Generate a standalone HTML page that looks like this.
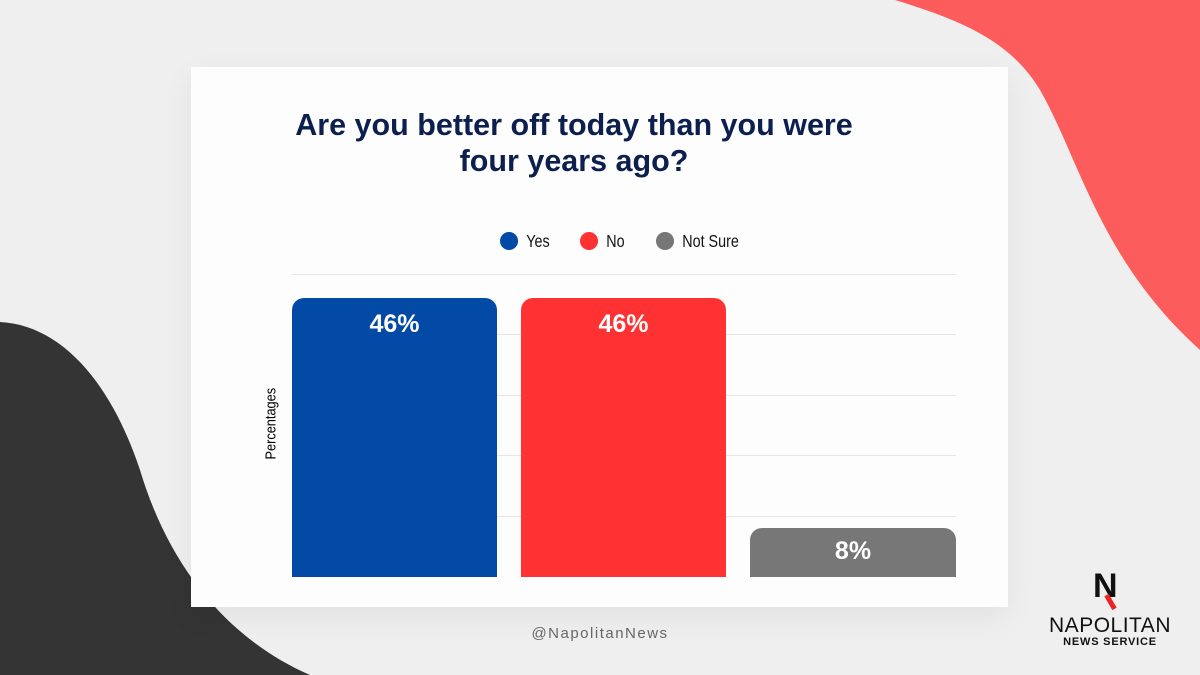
<!DOCTYPE html><html><head><style>
body{margin:0;width:1200px;height:675px;overflow:hidden;background:#efefef;position:relative;font-family:"Liberation Sans",sans-serif}
.abs{position:absolute}
.card{left:191px;top:67px;width:817px;height:540px;background:#fdfdfd;box-shadow:0 10px 30px rgba(0,0,0,0.06)}
.t{left:184px;top:107px;width:780px;text-align:center;color:#0d1f4f;font-weight:bold;font-size:30.5px;line-height:36px}
.g{left:292px;width:664px;height:1px;background:#e6e6e6}
.bar{border-radius:12px 12px 0 0;color:#fff;font-weight:bold;font-size:25px;text-align:center;padding-top:12px;box-sizing:border-box}
.leg{top:231px;font-size:17.5px;color:#111;transform:scaleX(0.82);transform-origin:left}
.dot{display:inline-block;width:22px;height:18px;border-radius:50%;vertical-align:-3px;margin-right:10px}
</style></head><body>
<svg class="abs" style="left:0;top:0" width="1200" height="675">
<path d="M895,0 C960,20 1010,40 1040,90 C1080,160 1100,260 1200,350 L1200,0 Z" fill="#fd5c5c"/>
<path d="M0,322 C60,325 110,380 140,470 C170,570 230,640 310,675 L0,675 Z" fill="#343434"/>
</svg>
<div class="abs card"></div>
<div class="abs t">Are you better off today than you were<br>four years ago?</div>
<div class="abs leg" style="left:500px"><span class="dot" style="background:#034aa6"></span>Yes</div>
<div class="abs leg" style="left:580px"><span class="dot" style="background:#fe3232"></span>No</div>
<div class="abs leg" style="left:656px"><span class="dot" style="background:#777"></span>Not Sure</div>
<div class="abs g" style="top:274px"></div><div class="abs g" style="top:334px"></div><div class="abs g" style="top:395px"></div><div class="abs g" style="top:455px"></div><div class="abs g" style="top:516px"></div>
<div class="abs" style="left:231px;top:417px;transform:rotate(-90deg) scaleX(0.85);transform-origin:center;width:80px;text-align:center;font-size:15px">Percentages</div>
<div class="abs bar" style="left:292px;top:298px;width:205px;height:279px;background:#034aa6">46%</div>
<div class="abs bar" style="left:521px;top:298px;width:205px;height:279px;background:#fe3232">46%</div>
<div class="abs bar" style="left:750px;top:528px;width:206px;height:49px;background:#777;padding-top:9px">8%</div>
<div class="abs" style="left:500px;top:625px;width:200px;text-align:center;color:#666;font-size:15px;letter-spacing:1.5px">@NapolitanNews</div>
<div class="abs" style="left:1093px;top:571px;width:24px;height:30px;font-weight:bold;font-size:34px;line-height:30px;color:#111">N</div>
<div class="abs" style="left:1108px;top:594px;width:5px;height:16px;background:#e22;transform:rotate(-30deg)"></div>
<div class="abs" style="left:1040px;top:614px;width:140px;text-align:center;font-size:21px;color:#111;letter-spacing:0.5px">NAPOLITAN</div>
<div class="abs" style="left:1040px;top:636px;width:140px;text-align:center;font-size:11px;font-weight:bold;color:#111;letter-spacing:0.8px">NEWS SERVICE</div>
</body></html>
